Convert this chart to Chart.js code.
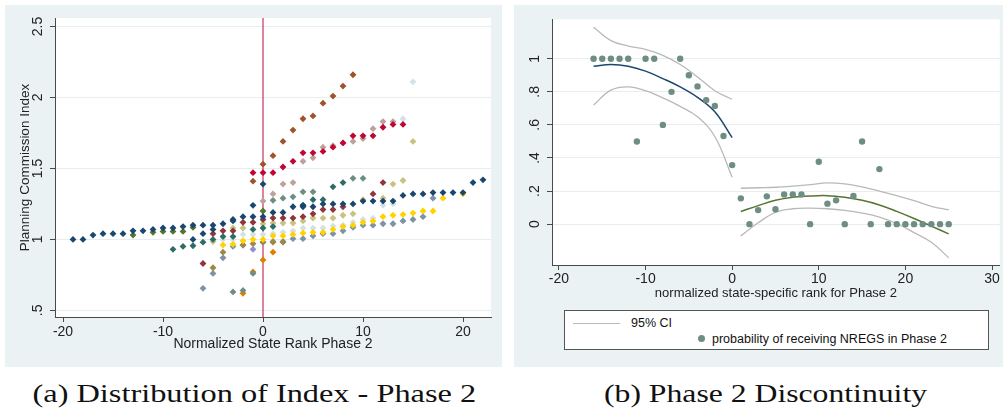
<!DOCTYPE html>
<html lang="en">

<head>
    <meta charset="UTF-8">
    <title>Phase 2 Index and Discontinuity</title>
    <style>
        body {
            margin: 0;
            width: 1003px;
            height: 411px;
            background: white;
            font-family: "Liberation Sans", Arial, sans-serif;
            position: relative;
            overflow: hidden;
        }

        .panel {
            position: absolute;
            top: 5px;
            height: 362px;
            background: #eaf2f3;
        }

        .legend {
            position: absolute;
            left: 50px;
            top: 305px;
            width: 423px;
            height: 38px;
            background: white;
            border: 1px solid #555;
            font-size: 12.5px;
            color: #111;
        }

        .legend .swatch-line {
            position: absolute;
            left: 8px;
            top: 12px;
            width: 47px;
            border-top: 1.3px solid #b9b9b9;
        }

        .legend .swatch-dot {
            position: absolute;
            left: 133px;
            top: 24px;
            width: 7px;
            height: 7px;
            border-radius: 50%;
            background: #6e8e84;
        }

        .legend .txt {
            position: absolute;
            line-height: 14px;
            white-space: nowrap;
        }

        .caption {
            position: absolute;
            top: 376px;
            font-family: "Liberation Serif", "Times New Roman", serif;
            font-size: 26px;
            line-height: 36px;
            white-space: nowrap;
            color: #111;
            transform-origin: center center;
        }
    </style>
</head>

<body>

    <div class="panel" style="left:5px; width:497px;">
        <canvas id="indexChart"></canvas>
    </div>
    <div class="panel" style="left:514px; width:489px;">
        <canvas id="rdChart"></canvas>
        <div class="legend">
            <div class="swatch-line"></div>
            <div class="txt" id="ciLegend" style="left:66px; top:5px;"></div>
            <div class="swatch-dot"></div>
            <div class="txt" id="ptLegend" style="left:147px; top:21px;"></div>
        </div>
    </div>

    <div class="caption" id="capA">(a) Distribution of Index - Phase 2</div>
    <div class="caption" id="capB">(b) Phase 2 Discontinuity</div>

    <script src="https://cdn.jsdelivr.net/npm/chart.js"></script>
    <script>
        // ---- panel (a): index by normalized rank, one series per state ----
        const navyRank = [-19, -18, -17, -16, -15, -14, -13, -12, -11, -10, -9, -8, -7, -6, -5, -4, -3, -2, -1, 0, 1, 2, 3, 4, 5, 6, 7, 8, 9, 10, 11, 12, 13, 14, 15, 16, 17, 18, 19, 20, 21, 22, -7, -6, -5, -3, -1, 0, 4];
        const navyIndex = [1.00, 1.00, 1.03, 1.04, 1.04, 1.04, 1.06, 1.06, 1.07, 1.08, 1.08, 1.09, 1.10, 1.10, 1.10, 1.11, 1.14, 1.16, 1.16, 1.16, 1.19, 1.19, 1.23, 1.23, 1.23, 1.25, 1.25, 1.25, 1.25, 1.27, 1.27, 1.27, 1.27, 1.31, 1.32, 1.32, 1.33, 1.33, 1.33, 1.33, 1.40, 1.42, 1.00, 1.04, 1.07, 1.13, 1.24, 1.39, 1.24];

        const siennaRank = [-1, 0, 1, 2, 3, 4, 5, 6, 7, 8, 9];
        const siennaIndex = [1.41, 1.53, 1.59, 1.69, 1.77, 1.85, 1.87, 1.96, 2.01, 2.08, 2.16];

        const cranberryRank = [-1, 0, 1, 2, 3, 4, 5, 6, 7, 8, 9, 10, 11, 12, 13, 14];
        const cranberryIndex = [1.47, 1.47, 1.47, 1.51, 1.55, 1.61, 1.61, 1.62, 1.65, 1.68, 1.73, 1.73, 1.73, 1.79, 1.81, 1.81];

        const eroseRank = [0, 1, 2, 3, 4, 5, 6, 7, 8, 9, 10, 11, 12, 13];
        const eroseIndex = [1.27, 1.32, 1.39, 1.40, 1.55, 1.575, 1.65, 1.66, 1.68, 1.69, 1.71, 1.78, 1.83, 1.83];

        const tealRank = [-3, -2, -1, 1, 2, 3, 4, 5, 9, 10];
        const tealIndex = [0.63, 0.64, 0.76, 1.275, 1.29, 1.30, 1.335, 1.335, 1.43, 1.43];

        const emeraldRank = [-9, -8, -7, -6, -5, -4, -3, -1, 0, 1, 4, 5, 6, 7, 8];
        const emeraldIndex = [0.93, 0.95, 0.955, 0.98, 1.00, 1.02, 1.02, 1.07, 1.08, 1.09, 1.24, 1.28, 1.28, 1.37, 1.40];

        const maroonRank = [-6, -5, -4, -3, -2, -1, 0, 1, 2, 3, 4, 5, 6, 7, 8, 11, 12];
        const maroonIndex = [0.83, 1.04, 1.06, 1.06, 1.12, 1.12, 1.14, 1.15, 1.15, 1.15, 1.16, 1.18, 1.21, 1.21, 1.23, 1.32, 1.40];

        const khakiRank = [-5, -3, -2, 0, 1, 2, 3, 4, 5, 6, 7, 8, 9, 10, 12, 13, 14, 15];
        const khakiIndex = [0.985, 1.08, 1.08, 1.11, 1.115, 1.115, 1.115, 1.13, 1.15, 1.15, 1.15, 1.17, 1.18, 1.28, 1.29, 1.39, 1.415, 1.69];

        const goldRank = [-4, -3, -2, -1, 0, 1, 2, 3, 4, 5, 6, 7, 8, 9, 10, 11, 12, 13, 14, 15, 16, 17, 18, 20];
        const goldIndex = [0.96, 0.965, 0.99, 1.00, 1.00, 1.025, 1.025, 1.035, 1.045, 1.05, 1.05, 1.07, 1.09, 1.10, 1.12, 1.13, 1.16, 1.17, 1.175, 1.185, 1.20, 1.20, 1.29, 1.32];

        const eltblueRank = [-4, -3, -2, -1, 0, 1, 2, 3, 4, 5, 6, 7, 8, 9, 10, 11, 12, 13, 14, 15];
        const eltblueIndex = [1.00, 1.00, 1.035, 1.035, 1.035, 1.04, 1.05, 1.06, 1.08, 1.08, 1.08, 1.095, 1.10, 1.12, 1.14, 1.15, 1.24, 1.25, 1.85, 2.11];

        const emidblueRank = [-6, -5, -4, -3, -2, 0, 1, 2, 3, 4, 5, 6, 7, 8, 9, 10, 11, 12, 13, 14, 15, 16, 17];
        const emidblueIndex = [0.655, 0.76, 0.87, 0.95, 0.96, 0.98, 0.985, 0.985, 1.005, 1.005, 1.025, 1.04, 1.04, 1.06, 1.085, 1.10, 1.10, 1.11, 1.11, 1.13, 1.14, 1.16, 1.29];

        const brownRank = [-5, -4, -2, -1, 0, 1, 2];
        const brownIndex = [0.80, 0.91, 0.96, 0.97, 0.98, 0.98, 0.98];

        const forestRank = [-13, -11, -10, -9, -8, -7, 0];
        const forestIndex = [1.03, 1.05, 1.056, 1.056, 1.056, 1.084, 1.20];

        const orangeRank = [-2, -1, 0, 1];
        const orangeIndex = [0.62, 0.77, 0.855, 0.91];

        const lavenderRank = [-1];
        const lavenderIndex = [0.93];

        const rankTicksA = [-20, -10, 0, 10, 20];
        const indexTicksA = [0.5, 1, 1.5, 2, 2.5];
        const indexTickLabelsA = ['.5', '1', '1.5', '2', '2.5'];

        // ---- panel (b): probability of NREGS by rank, with local fits ----
        const rankB = [-16, -15, -14, -13, -12, -11, -10, -9, -8, -7, -6, -5, -4, -3, -2, -1, 0, 1, 2, 3, 4, 5, 6, 7, 8, 9, 10, 11, 12, 13, 14, 15, 16, 17, 18, 19, 20, 21, 22, 23, 24, 25];
        const probB = [1, 1, 1, 1, 1, 0.5, 1, 1, 0.6, 0.8, 1, 0.9, 0.833, 0.75, 0.714, 0.533, 0.357, 0.156, 0, 0.085, 0.168, 0.09, 0.18, 0.18, 0.18, 0, 0.377, 0.124, 0.144, 0, 0.17, 0.5, 0, 0.333, 0, 0, 0, 0, 0, 0, 0, 0];

        const fitLeftRank = [-16, -14, -12, -10, -8, -6, -4, -2, 0];
        const fitLeft = [0.955, 0.965, 0.955, 0.925, 0.88, 0.83, 0.767, 0.68, 0.523];
        const ciLeftHi = [1.19, 1.11, 1.077, 1.057, 1.02, 0.965, 0.89, 0.807, 0.755];
        const ciLeftLo = [0.72, 0.81, 0.83, 0.807, 0.763, 0.712, 0.649, 0.53, 0.284];

        const fitRightRank = [1, 3, 5, 7, 9, 11, 13, 15, 17, 19, 21, 23, 25];
        const fitRight = [0.077, 0.112, 0.144, 0.162, 0.17, 0.172, 0.162, 0.144, 0.116, 0.077, 0.034, -0.012, -0.059];
        const ciRightHi = [0.217, 0.22, 0.223, 0.23, 0.239, 0.249, 0.243, 0.225, 0.2, 0.172, 0.142, 0.108, 0.087];
        const ciRightLo = [-0.071, 0.008, 0.071, 0.093, 0.097, 0.093, 0.083, 0.067, 0.043, 0.004, -0.051, -0.11, -0.203];

        const rankTicksB = [-20, -10, 0, 10, 20, 30];
        const probTicksB = [0, 0.2, 0.4, 0.6, 0.8, 1];
        const probTickLabelsB = ['0', '.2', '.4', '.6', '.8', '1'];

        const ciLabel = '95% CI';
        const pointLabel = 'probability of receiving NREGS in Phase 2';

        // ---- helpers ----
        const pairs = (xs, ys) => xs.map((x, i) => ({ x: x, y: ys[i] }));

        const plotBackground = {
            id: 'plotBackground',
            beforeDraw(chart) {
                const a = chart.chartArea;
                const c = chart.ctx;
                c.save();
                c.fillStyle = '#ffffff';
                c.fillRect(a.left, a.top, a.right - a.left, a.bottom - a.top);
                c.restore();
            }
        };

        const tickFont = { family: '"Liberation Sans", Arial, sans-serif', size: 14 };
        const axisColor = '#4a4a4a';
        const gridColor = '#e6eef0';

        Chart.defaults.animation = false;
        Chart.defaults.color = '#222';

        function stateSeries(rank, index, color) {
            return {
                data: pairs(rank, index),
                backgroundColor: color,
                borderColor: color,
                borderWidth: 0,
                pointStyle: 'rectRot',
                pointRadius: 3.4,
                pointHoverRadius: 3.4
            };
        }

        // panel (a)
        new Chart(document.getElementById('indexChart'), {
            type: 'scatter',
            data: {
                datasets: [
                    stateSeries(navyRank, navyIndex, '#1a476f'),
                    stateSeries(cranberryRank, cranberryIndex, '#c10534'),
                    stateSeries(siennaRank, siennaIndex, '#a0522d'),
                    stateSeries(eroseRank, eroseIndex, '#bfa19c'),
                    stateSeries(goldRank, goldIndex, '#ffd200'),
                    stateSeries(maroonRank, maroonIndex, '#90353b'),
                    stateSeries(emeraldRank, emeraldIndex, '#2d6d66'),
                    stateSeries(tealRank, tealIndex, '#6e8e84'),
                    stateSeries(forestRank, forestIndex, '#55752f'),
                    stateSeries(khakiRank, khakiIndex, '#cac27e'),
                    stateSeries(brownRank, brownIndex, '#9c8847'),
                    stateSeries(emidblueRank, emidblueIndex, '#7b92a8'),
                    stateSeries(eltblueRank, eltblueIndex, '#d4e2e8'),
                    stateSeries(orangeRank, orangeIndex, '#e37e00'),
                    stateSeries(lavenderRank, lavenderIndex, '#938dd2'),
                    {
                        // cutoff line at rank 0
                        type: 'line',
                        data: [{ x: 0, y: 0.453 }, { x: 0, y: 2.56 }],
                        borderColor: 'rgba(200, 50, 85, 0.75)',
                        borderWidth: 1.6,
                        pointRadius: 0,
                        order: 20
                    }
                ]
            },
            options: {
                responsive: true,
                maintainAspectRatio: false,
                events: [],
                layout: { padding: { top: 13, right: 11, left: 0, bottom: 0 } },
                plugins: { legend: { display: false }, tooltip: { enabled: false } },
                scales: {
                    x: {
                        type: 'linear',
                        min: -20.8,
                        max: 22.8,
                        afterBuildTicks: s => { s.ticks = rankTicksA.map(v => ({ value: v })); },
                        afterFit: s => { s.height = 50; },
                        ticks: { font: tickFont, padding: 2, maxRotation: 0, color: '#222' },
                        grid: { drawOnChartArea: false, tickLength: 5, tickColor: axisColor },
                        border: { color: axisColor, width: 1 },
                        title: {
                            display: true,
                            text: 'Normalized State Rank Phase 2',
                            font: { family: '"Liberation Sans", Arial, sans-serif', size: 14 },
                            color: '#222',
                            padding: { top: 0, bottom: 14 }
                        }
                    },
                    y: {
                        min: 0.453,
                        max: 2.56,
                        afterBuildTicks: s => { s.ticks = indexTicksA.map(v => ({ value: v })); },
                        afterFit: s => { s.width = 50; },
                        ticks: {
                            font: tickFont,
                            minRotation: 90,
                            maxRotation: 90,
                            crossAlign: 'center',
                            padding: 2,
                            color: '#222',
                            callback: v => indexTickLabelsA[indexTicksA.indexOf(v)]
                        },
                        grid: { color: gridColor, tickLength: 5, tickColor: axisColor },
                        border: { color: axisColor, width: 1 },
                        title: {
                            display: true,
                            text: 'Planning Commission Index',
                            font: { family: '"Liberation Sans", Arial, sans-serif', size: 13.5 },
                            color: '#222',
                            padding: { top: 12, bottom: 0 }
                        }
                    }
                }
            },
            plugins: [plotBackground]
        });

        function curve(rank, vals, color, width) {
            return {
                type: 'line',
                data: pairs(rank, vals),
                borderColor: color,
                borderWidth: width,
                pointRadius: 0,
                tension: 0.4,
                fill: false
            };
        }

        // panel (b)
        new Chart(document.getElementById('rdChart'), {
            type: 'scatter',
            data: {
                datasets: [
                    {
                        label: pointLabel,
                        data: pairs(rankB, probB),
                        backgroundColor: '#6e8e84',
                        borderWidth: 0,
                        pointRadius: 3.2,
                        pointHoverRadius: 3.2
                    },
                    curve(fitLeftRank, fitLeft, '#1a476f', 1.5),
                    curve(fitRightRank, fitRight, '#55752f', 1.5),
                    curve(fitLeftRank, ciLeftHi, '#b9b9b9', 1.3),
                    curve(fitLeftRank, ciLeftLo, '#b9b9b9', 1.3),
                    curve(fitRightRank, ciRightHi, '#b9b9b9', 1.3),
                    curve(fitRightRank, ciRightLo, '#b9b9b9', 1.3)
                ]
            },
            options: {
                responsive: true,
                maintainAspectRatio: false,
                events: [],
                layout: { padding: { top: 12, right: 2, left: 0, bottom: 62 } },
                plugins: { legend: { display: false }, tooltip: { enabled: false } },
                scales: {
                    x: {
                        type: 'linear',
                        min: -20.8,
                        max: 30.9,
                        afterBuildTicks: s => { s.ticks = rankTicksB.map(v => ({ value: v })); },
                        afterFit: s => { s.height = 40; },
                        ticks: { font: tickFont, padding: 1, maxRotation: 0, color: '#222' },
                        grid: { drawOnChartArea: false, tickLength: 5, tickColor: axisColor },
                        border: { color: axisColor, width: 1 },
                        title: {
                            display: true,
                            text: 'normalized state-specific rank for Phase 2',
                            font: { family: '"Liberation Sans", Arial, sans-serif', size: 13 },
                            color: '#222',
                            padding: { top: 0, bottom: 4 }
                        }
                    },
                    y: {
                        min: -0.247,
                        max: 1.238,
                        afterBuildTicks: s => { s.ticks = probTicksB.map(v => ({ value: v })); },
                        afterFit: s => { s.width = 38; },
                        ticks: {
                            font: tickFont,
                            minRotation: 90,
                            maxRotation: 90,
                            crossAlign: 'center',
                            padding: 6,
                            color: '#222',
                            callback: v => probTickLabelsB[probTicksB.indexOf(v)]
                        },
                        grid: { color: gridColor, tickLength: 5, tickColor: axisColor },
                        border: { color: axisColor, width: 1 }
                    }
                }
            },
            plugins: [plotBackground]
        });

        document.getElementById('ciLegend').textContent = ciLabel;
        document.getElementById('ptLegend').textContent = pointLabel;

        // stretch the serif captions to the width of the original typesetting
        function placeCaption(id, centerX, targetWidth) {
            const el = document.getElementById(id);
            const w = el.offsetWidth;
            el.style.left = (centerX - w / 2) + 'px';
            el.style.transform = 'scaleX(' + (targetWidth / w) + ')';
        }
        placeCaption('capA', 254, 444);
        placeCaption('capB', 765, 323);
    </script>
</body>

</html>
